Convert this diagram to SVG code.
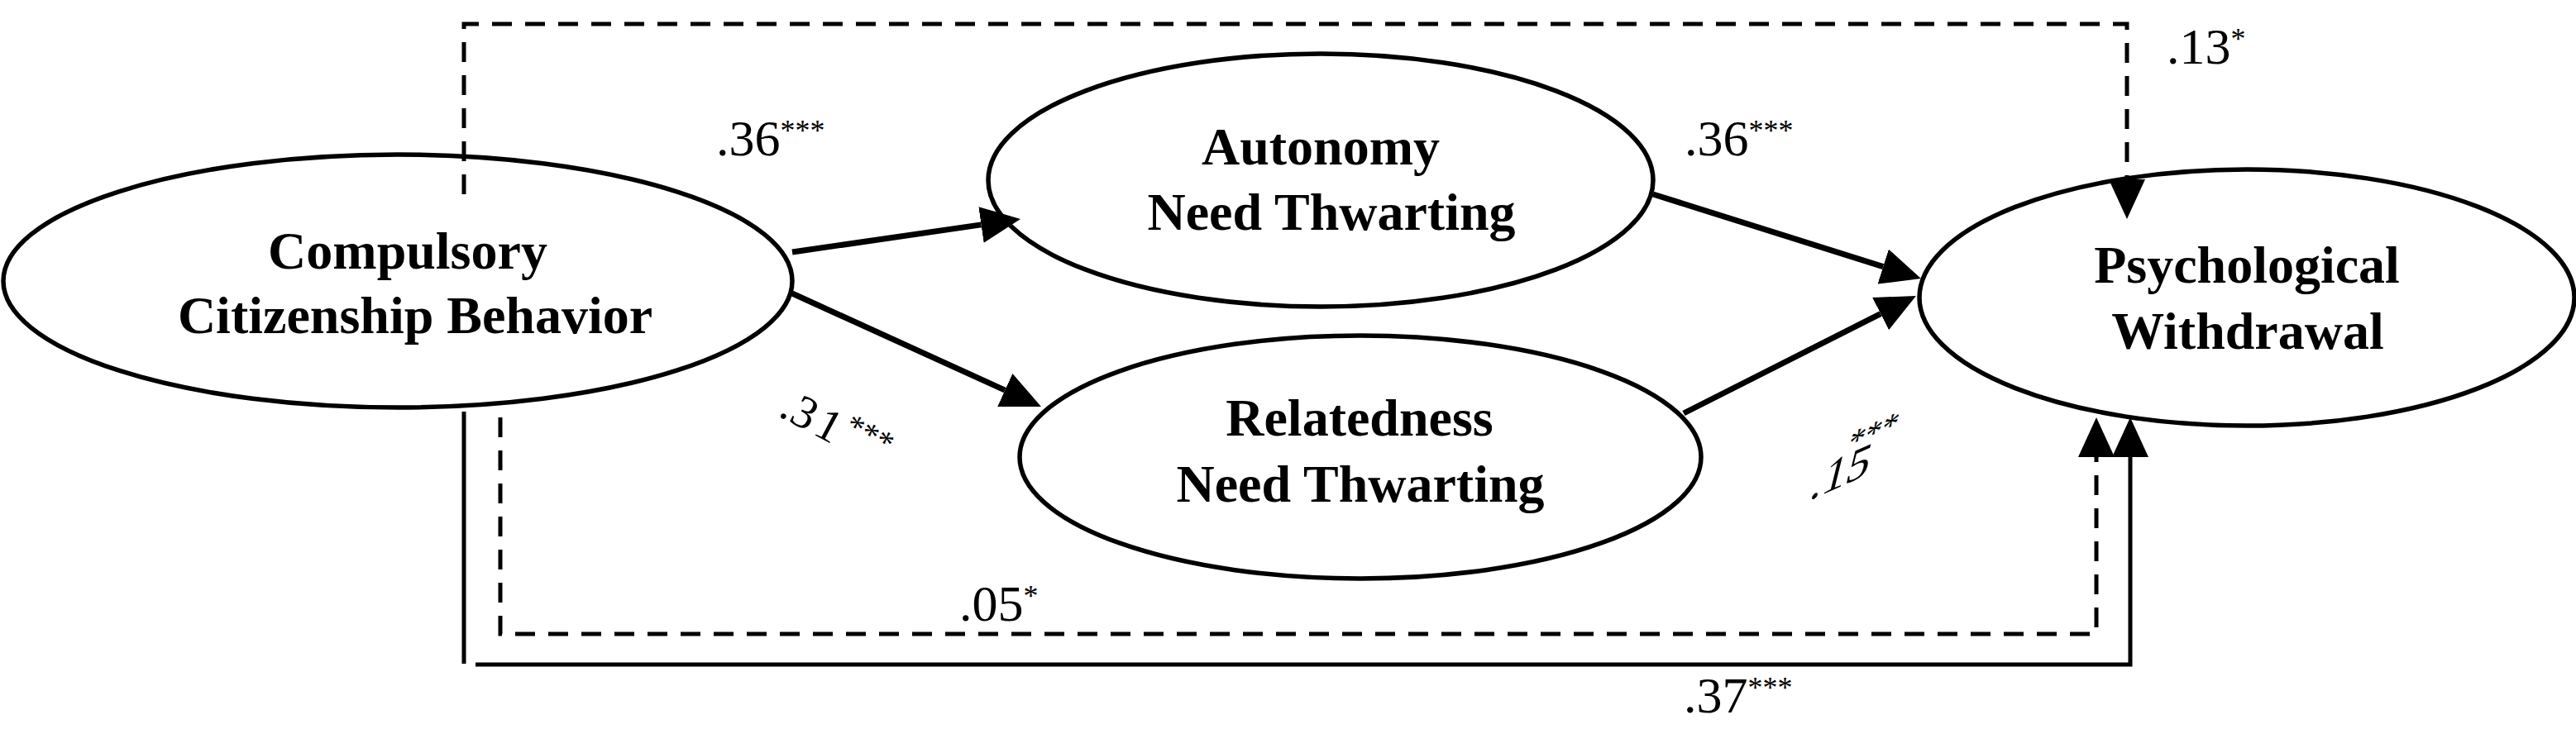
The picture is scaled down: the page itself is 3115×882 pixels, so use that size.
<svg xmlns="http://www.w3.org/2000/svg" width="3115" height="882" viewBox="0 0 3115 882">
<style>
.node ellipse{fill:#fff;stroke:#000;stroke-width:5.5}
.nl{font-family:"Liberation Serif","Times New Roman",serif;font-weight:bold;font-size:64px;text-anchor:middle;fill:#000}
.cf{font-family:"Liberation Serif","Times New Roman",serif;font-size:62px;fill:#000}
.ln{fill:none;stroke:#000;stroke-linejoin:miter}
.bold{stroke-width:7}
.sol{stroke-width:5}
.dsh{stroke-width:5;stroke-dasharray:24 16}
</style>
<defs>
<marker id="ah" markerUnits="userSpaceOnUse" viewBox="0 0 48 44" markerWidth="48" markerHeight="44" refX="0" refY="22" orient="auto">
<path d="M0,0 L48,22 L0,44 z" fill="#000"/>
</marker>
</defs>
<rect width="3115" height="882" fill="#fff"/>
<g id="nodes">
<g id="node-ccb" class="node">
<ellipse cx="481" cy="340" rx="477" ry="153"/>
<text class="nl" x="493" y="325">Compulsory</text>
<text class="nl" x="502" y="403">Citizenship Behavior</text>
</g>
<g id="node-autonomy" class="node">
<ellipse cx="1597" cy="218" rx="402" ry="153"/>
<text class="nl" x="1597" y="199">Autonomy</text>
<text class="nl" x="1610" y="278">Need Thwarting</text>
</g>
<g id="node-relatedness" class="node">
<ellipse cx="1645" cy="553" rx="412" ry="147"/>
<text class="nl" x="1644" y="527">Relatedness</text>
<text class="nl" x="1645" y="607">Need Thwarting</text>
</g>
<g id="node-pw" class="node">
<ellipse cx="2717" cy="360" rx="396" ry="155"/>
<text class="nl" x="2717" y="342">Psychological</text>
<text class="nl" x="2718" y="422">Withdrawal</text>
</g>
</g>
<g id="connectors">
<path class="ln bold" d="M958,305 L1186.5,271.9" marker-end="url(#ah)"/>
<path class="ln bold" d="M958,355 L1215.3,472.1" marker-end="url(#ah)"/>
<path class="ln bold" d="M1999,235 L2277.2,322.6" marker-end="url(#ah)"/>
<path class="ln bold" d="M2036,500 L2274.1,379.6" marker-end="url(#ah)"/>
<path class="ln dsh" d="M561,235 V29 H2572 V217" marker-end="url(#ah)"/>
<path class="ln dsh" d="M605,505 V767 H2535 V553" marker-end="url(#ah)"/>
<path class="ln sol" d="M561,498 V803 M575,804 H2576 V553" marker-end="url(#ah)"/>
</g>
<g id="labels">
<text class="cf" x="866" y="188">.36<tspan dy="-18" font-size="36">***</tspan></text>
<text class="cf" x="2037" y="188">.36<tspan dy="-18" font-size="36">***</tspan></text>
<text class="cf" x="2620" y="77">.13<tspan dy="-18" font-size="36">*</tspan></text>
<text class="cf" x="1160" y="751">.05<tspan dy="-18" font-size="36">*</tspan></text>
<text class="cf" x="2036" y="862">.37<tspan dy="-18" font-size="36">***</tspan></text>
<text class="cf" style="font-size:56px" transform="translate(940,502.4) rotate(28)">.3<tspan dx="5">1</tspan><tspan dx="4.5" dy="-18.6" style="font-size:40px">***</tspan></text>
<g transform="matrix(0.914,-0.407,-0.24,0.97,2186.7,606)">
<text class="cf" style="font-size:62px" x="0" y="0">.15</text>
<text class="cf" style="font-size:44px" x="39" y="-40">***</text>
</g>
</g>
</svg>
